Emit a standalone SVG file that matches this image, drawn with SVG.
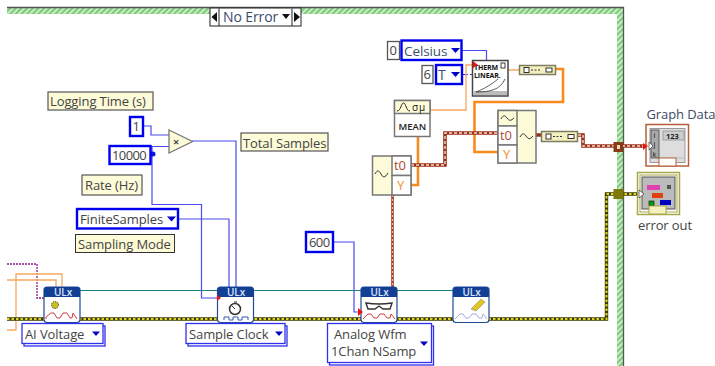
<svg xmlns="http://www.w3.org/2000/svg" width="715" height="366" viewBox="0 0 715 366">
<style>
text{font-family:"Open Sans","Noto Sans","Liberation Sans",sans-serif;font-size:13px;fill:#444;letter-spacing:-.1px}
.n{letter-spacing:-.6px}
.lab{fill:#fdfbd8;stroke:#555;stroke-width:1.2}
.lab2{fill:#fdfbd8;stroke:#333;stroke-width:1}
.con{fill:#fff;stroke:#0000f0;stroke-width:2.4}
.ring{fill:#fff;stroke:#3030f0;stroke-width:1.3}
.num{fill:#fff;stroke:#555;stroke-width:1.3}
.blue{fill:none;stroke:#4a4af0;stroke-width:1.2}
.org{fill:none;stroke:#f7a860;stroke-width:1.3}
.org2{fill:none;stroke:#f98a1e;stroke-width:2.6}
.errb{fill:none;stroke:#3a3a00;stroke-width:3.4}
.erry{fill:none;stroke:#e0d820;stroke-width:2;stroke-dasharray:2.5 2}
.redb{fill:none;stroke:#9a3018;stroke-width:3.6}
.redb2{fill:none;stroke:#a83a20;stroke-width:2.6}
.redw{fill:none;stroke:#f4dccc;stroke-width:1.4;stroke-dasharray:3 2}
.vi{fill:#fff;stroke:#1f4a9a;stroke-width:1.2}
.hd{fill:#123f94}
.ulx{fill:#d8e4ff;font-size:10px;font-weight:600}
.box{fill:#fff;stroke:#777;stroke-width:1.5}
.cream{fill:#fdfbd8;stroke:#777;stroke-width:1.5}
.bun{fill:#f4f0c0;stroke:#7d7d60;stroke-width:1.5}
.arr{fill:#0000c8}
</style>
<defs>
<pattern id="hatch" width="4" height="4" patternUnits="userSpaceOnUse" patternTransform="rotate(45)">
<rect width="4" height="4" fill="#c6eec0"/><rect width="2" height="4" fill="#7fc87f"/>
</pattern>
</defs>
<rect width="715" height="366" fill="#fff"/>
<g id="frame">
<rect x="7" y="8" width="616" height="6" fill="url(#hatch)"/>
<rect x="617" y="8" width="6" height="358" fill="url(#hatch)"/>
<path d="M7 7.500H623.500V366" fill="none" stroke="#555" stroke-width="1.300"/>
</g>
<g id="selector">
<rect x="210" y="8" width="91" height="18" fill="#fff" stroke="#222" stroke-width="1"/>
<path d="M219 8.500V26M292 8.500V26" stroke="#222" fill="none"/>
<path d="M217 12V22L211.500 17Z M294 12V22L300 17Z M282 14H290L286 19Z" fill="#111"/>
<text x="223" y="22" style="fill:#3a4a6a;font-size:14px">No Error</text>
</g>
<g id="connectors">
<path class="blue" d="M143 126H151V135H169M151 146.500H169M152 146V204.500H201.500V298H217M178 219H229V287M192 141H236V287M333 242H354V312H361M462 50.500H486.500V60"/>
<path d="M462 74.500H472" stroke="#3030e0" stroke-width="1.200" stroke-dasharray="6 2" fill="none"/>
<circle cx="153" cy="154" r="2.500" fill="#1010f0"/>
<path d="M7 264H37V298H44" fill="none" stroke="#8a1a8a" stroke-width="1.300" stroke-dasharray="2 1"/>
<path class="org" d="M7 330H16V274H62V287M7 280H56V287M430 110H466V65H473M508 70H519"/>
<path class="org2" d="M556 69H563V102H474.500V152H498M418 137V185H411"/>
<path d="M80 290.500H453" stroke="#1f7f7f" stroke-width="1.200" fill="none"/>
<path class="errb" d="M7 319H606.500V194H638"/>
<path class="erry" d="M7 319H606.500V194H638"/>
<path class="redb" d="M411 165H445V133H498M536 135H541M578 135H583V146H645"/>
<path class="redb2" d="M392.500 195V287"/>
<path class="redw" d="M411 165H445V133H498M578 135H583V146H645"/>
<path d="M392.500 195V287" fill="none" stroke="#f4dccc" stroke-width=".8" stroke-dasharray="2 2"/>
</g>
<g id="logging-time-label"><rect class="lab" x="48" y="92" width="105" height="18"/><text x="50" y="106">Logging Time (s)</text></g>
<g id="const-1"><rect class="con" x="130" y="117" width="13" height="19"/><text x="132.500" y="131">1</text></g>
<g id="const-10000"><rect class="con" x="109.500" y="146" width="41" height="18"/><text class="n" x="112" y="160">10000</text></g>
<g id="multiply"><path d="M169 130L192.500 141.500L169 153Z" fill="#fdfbd8" stroke="#777" stroke-width="1.300"/><text x="173" y="146" style="font-size:11px;font-weight:700">×</text></g>
<g id="total-samples-label"><rect class="lab" x="241" y="133" width="87" height="18"/><text x="243" y="147.500">Total Samples</text></g>
<g id="rate-label"><rect class="lab" x="82" y="175" width="60" height="20"/><text x="85" y="190">Rate (Hz)</text></g>
<g id="finite-samples"><rect class="con" x="77" y="209" width="101" height="19.500"/><text x="80" y="224">FiniteSamples</text><path class="arr" d="M167 216.500H176L171.500 221.500Z"/></g>
<g id="sampling-mode-label"><rect class="lab2" x="75.500" y="234.500" width="99" height="18"/><text x="78" y="249">Sampling Mode</text></g>
<g id="const-600"><rect class="con" x="306" y="232" width="27" height="20"/><text class="n" x="309" y="247">600</text></g>
<g id="const-0"><rect class="num" x="387.500" y="41.500" width="12" height="18"/><text x="389.500" y="55">0</text></g>
<g id="celsius"><rect class="con" x="401.500" y="40.500" width="60" height="19.500"/><text x="404" y="55.500" style="fill:#3a5070;font-size:13.500px">Celsius</text><path class="arr" d="M451 48H460L455.500 53Z"/></g>
<g id="const-6"><rect class="num" x="422" y="65.500" width="11" height="18"/><text x="423.500" y="79">6</text></g>
<g id="t-ring"><rect class="con" x="436" y="65" width="26" height="19"/><text x="438" y="80" style="fill:#3a5070;font-size:14px">T</text><path class="arr" d="M451 72H460L455.500 77Z"/></g>
<g id="thermo-linear"><rect x="472.500" y="60.500" width="35.500" height="35.500" fill="#fff" stroke="#444" stroke-width="1.500"/><rect x="473.500" y="91" width="33.500" height="4" fill="#bbb"/>
<text x="474" y="70" style="font-size:7px;font-weight:700;fill:#111">THERM</text><text x="474" y="78" style="font-size:7px;font-weight:700;fill:#111">LINEAR.</text>
<rect x="501" y="63" width="4" height="5" fill="#fff" stroke="#111" stroke-width=".8"/>
<path d="M476 92C486 88 492 84 498 79M476 92C490 92 500 90 505 79" fill="none" stroke="#333" stroke-width=".8"/>
<path d="M473 61L473 68L478 65Z" fill="#f01010"/></g>
<g id="bundle-1"><rect class="bun" x="519.500" y="65.500" width="36" height="9"/><rect x="524" y="67.500" width="5" height="5" fill="#fff" stroke="#333"/><rect x="546" y="68" width="6" height="4" fill="#fff" stroke="#333"/><path d="M531 70H540" stroke="#333" stroke-dasharray="2 1.500"/></g>
<g id="mean"><rect class="box" x="394.500" y="100.500" width="35.500" height="36"/><rect class="cream" x="394.500" y="100.500" width="35.500" height="13"/>
<path d="M397 111C401 111 401 103 403.500 103C406 103 406 111 410 111" fill="none" stroke="#222"/><text x="412" y="110.500" style="font-size:10px;fill:#222;letter-spacing:1px">σμ</text>
<text x="412.300" y="130" text-anchor="middle" style="font-size:9.500px;font-weight:600;fill:#222">MEAN</text></g>
<g id="waveform-get"><rect class="cream" x="372.500" y="156" width="38.500" height="39"/><rect class="box" x="392" y="156" width="19" height="19.500"/><rect class="box" x="392" y="175.500" width="19" height="19.500"/>
<path d="M375 174C377 170 379 170 381 174S385 178 388 173" fill="none" stroke="#333"/>
<text x="394" y="170" style="fill:#b04a30">t0</text><text x="397" y="190" style="fill:#f09030">Y</text></g>
<g id="waveform-build"><rect class="cream" x="498" y="110.500" width="38" height="52.500"/><rect class="box" x="498" y="110.500" width="19" height="15.500" style="fill:#fdfbd8"/><rect class="box" x="498" y="126" width="19" height="19"/><rect class="box" x="498" y="145" width="19" height="18"/>
<path d="M501 119C503 115 505 115 507 118S511 121 514 118M520 137C522 133 524 133 526 136S530 140 533 136" fill="none" stroke="#333"/>
<text x="500" y="140" style="fill:#b04a30">t0</text><text x="503" y="159" style="fill:#f09030">Y</text></g>
<g id="bundle-2"><rect class="bun" x="541.500" y="131.500" width="36" height="10"/><rect x="546" y="134" width="5" height="5" fill="#fff" stroke="#333"/><rect x="568" y="134.500" width="6" height="4" fill="#fff" stroke="#333"/><path d="M553 136.500H562" stroke="#333" stroke-dasharray="2 1.500"/></g>
<g id="tunnel-data"><rect x="613.500" y="142" width="9.500" height="10" fill="#8a3a12"/><rect x="617" y="145" width="3" height="4" fill="#f0d8c8"/></g>
<g id="tunnel-error"><rect x="613.500" y="189" width="10" height="10" fill="#7d7a08"/></g>
<g id="graph-data"><text x="646.500" y="119" style="fill:#3c4a66">Graph Data</text>
<rect x="646" y="124.500" width="42.500" height="41.500" fill="#fff" stroke="#b5603a" stroke-width="1.500"/>
<rect x="650" y="128.500" width="35" height="34" fill="#ddd" stroke="#999"/>
<rect x="651" y="130" width="8" height="28" fill="#aaa" stroke="#333" stroke-width=".7"/>
<text x="653.500" y="138" style="font-size:7.500px;fill:#111">i</text><text x="653.500" y="147" style="font-size:7.500px;fill:#111">j</text><text x="652.500" y="157" style="font-size:7.500px;fill:#111">k</text>
<rect x="663" y="131" width="21" height="9" fill="#ccc" stroke="#888" stroke-width=".7"/><text x="666" y="139" style="font-size:7.500px;font-weight:700;fill:#222">123</text>
<path d="M659 163V158H685" fill="none" stroke="#bbb"/>
<rect x="659" y="158" width="17" height="8" fill="#fff" stroke="#b5603a"/>
<path d="M643 143L648 146L643 150Z" fill="#f01010"/><path d="M649 142L653 146L649 150Z" fill="#fff" stroke="#333" stroke-width=".7"/></g>
<g id="error-out"><rect x="637.500" y="172.500" width="42" height="42" fill="#fff" stroke="#a8a84a" stroke-width="1.500"/><rect x="640" y="175" width="37" height="37" fill="#fff" stroke="#a8a84a"/>
<rect x="642" y="177" width="33" height="32" fill="#bbb" stroke="#555"/>
<rect x="647" y="185" width="13" height="5" fill="#e040b0"/><rect x="652" y="193" width="11" height="5" fill="#e04010"/><rect x="649" y="201" width="5" height="5" fill="#00a000" stroke="#222" stroke-width=".7"/><rect x="660" y="200" width="11" height="5" fill="#0000c0"/><rect x="667" y="185" width="4" height="4" fill="#555"/>
<rect x="649" y="206" width="17" height="8" fill="#f4f0c0" stroke="#a8a84a"/>
<path d="M639 190L644 194L639 198Z" fill="#fff" stroke="#333" stroke-width=".7"/>
<text x="638" y="230">error out</text></g>
<g id="vi-ai-voltage"><rect class="vi" x="44" y="287" width="36" height="35.500" rx="3"/><path class="hd" d="M44 297V290Q44 287 47 287H77Q80 287 80 290V297Z"/><text class="ulx" x="54" y="296">ULx</text>
<circle cx="55" cy="305" r="3.500" fill="#c8c020" stroke="#333" stroke-dasharray="1 1"/><path d="M46 319V317L51 313H54L57 318H60L63 313H67L70 318H72L73 313L77 319" fill="none" stroke="#d04040"/></g>
<g id="vi-sample-clock"><rect class="vi" x="217.500" y="287" width="36" height="35.500" rx="3"/><path class="hd" d="M217.500 297V290Q217.500 287 220.500 287H250.500Q253.500 287 253.500 290V297Z"/><text class="ulx" x="227" y="296">ULx</text>
<circle cx="235" cy="309" r="5.500" fill="#fff" stroke="#333" stroke-width="1.500"/><path d="M232 306L235 309M234 302H237" stroke="#333"/><path d="M224 320V317H229V320H233V317H238V320H242V317H248V320" fill="none" stroke="#2a5ab0"/>
<path d="M217 295V301L221 298Z" fill="#f01010"/></g>
<g id="vi-read"><rect class="vi" x="361" y="287" width="36" height="35.500" rx="3"/><path class="hd" d="M361 297V290Q361 287 364 287H394Q397 287 397 290V297Z"/><text class="ulx" x="370.500" y="296">ULx</text>
<path d="M366 303Q379 305 392 303L390 309H383L379 306L375 309H368Z" fill="#fff" stroke="#333" stroke-width="1.400"/><path d="M363 319L368 314H371L374 318H377L380 314H384L387 318H390L391 314L395 319" fill="none" stroke="#d04040"/>
<path d="M358 308L363 312L358 316Z" fill="#f01010"/></g>
<g id="vi-clear"><rect class="vi" x="453" y="287" width="36" height="35.500" rx="3"/><path class="hd" d="M453 297V290Q453 287 456 287H486Q489 287 489 290V297Z"/><text class="ulx" x="462.500" y="296">ULx</text>
<path d="M471 309L481 299L485 302L476 311Z" fill="#e0c820" stroke="#888" stroke-width=".6"/><path d="M455 319L460 314H463L466 318H469L472 314H476L479 318H482L483 314L487 319" fill="none" stroke="#a0b0e0"/></g>
<g id="ai-voltage-ring"><rect class="ring" x="24" y="326" width="81" height="20"/><rect class="ring" x="22" y="323.500" width="81" height="20"/><text x="25" y="339">AI Voltage</text><path class="arr" d="M92 331.500H100L96 336Z"/></g>
<g id="sample-clock-ring"><rect class="ring" x="188" y="326" width="99" height="20"/><rect class="ring" x="186" y="323.500" width="99" height="20"/><text x="189" y="339">Sample Clock</text><path class="arr" d="M275 331.500H283L279 336Z"/></g>
<g id="analog-wfm-ring"><rect class="ring" x="329.500" y="326" width="104" height="39"/><rect class="ring" x="327.500" y="323.500" width="104" height="39"/><text x="334" y="339">Analog Wfm</text><text x="331" y="356">1Chan NSamp</text><path class="arr" d="M420 341.500H428L424 346Z"/></g>
</svg>
